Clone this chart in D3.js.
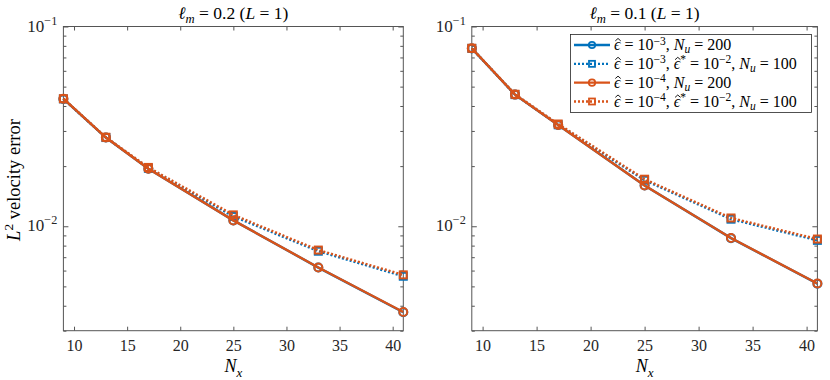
<!DOCTYPE html>
<html><head><meta charset="utf-8">
<script src="https://cdn.jsdelivr.net/npm/d3@7"></script>
<style>
body{margin:0;background:#fff}
svg{display:block}
svg text{font-family:"Liberation Serif","Times New Roman","DejaVu Serif",serif}
</style>
</head><body>
<svg id="c" width="830" height="380"></svg>
<script>
// ---- data ----
const Nx = [9, 13, 17, 25, 33, 41];
const xTicks = [10, 15, 20, 25, 30, 35, 40];
const yMajor = [0.01, 0.1];
const yMajorLabels = ["\u22122", "\u22121"];
// left panel (ell_m = 0.2)
const L_e3_200 = [0.0434, 0.0278, 0.0194, 0.0107, 0.00621, 0.00371];
const L_e3_100 = [0.0434, 0.0278, 0.0195, 0.0112, 0.00750, 0.00562];
const L_e4_200 = [0.0435, 0.0278, 0.0194, 0.0107, 0.00622, 0.00372];
const L_e4_100 = [0.0435, 0.0279, 0.0197, 0.0114, 0.00760, 0.00571];
// right panel (ell_m = 0.1)
const R_e3_200 = [0.0777, 0.0456, 0.0321, 0.0160, 0.00872, 0.00516];
const R_e3_100 = [0.0777, 0.0456, 0.0322, 0.0170, 0.01085, 0.00850];
const R_e4_200 = [0.0778, 0.0456, 0.0321, 0.0160, 0.00873, 0.00517];
const R_e4_100 = [0.0778, 0.0458, 0.0325, 0.0172, 0.0110, 0.00863];

const BLUE = "#0072BD", ORANGE = "#D95319";
const TXT = "#262626";

const svg = d3.select("#c");

const hats = [];
function rich(sel, segs, fs, supK = 0.4, subK = 0.25) {
  let shift = 0;
  segs.forEach(([t, k]) => {
    const ts = sel.append("tspan").text(t);
    let target = 0, size = fs;
    if (k.startsWith("sup")) { target = -fs * supK; size = fs * 0.72; }
    if (k.startsWith("sub")) { target = fs * subK; size = fs * 0.72; }
    ts.attr("dy", target - shift).attr("font-size", size);
    shift = target;
    if (k === "i" || k === "h" || k === "supi" || k === "subi") ts.attr("font-style", "italic");
    if (k === "h") hats.push({ node: ts.node(), fs: fs });
  });
}
// circumflex accents drawn as small strokes over the epsilon glyphs
function placeHats(layer) {
  hats.forEach(h => {
    const ext = h.node.getExtentOfChar(0);
    const sp = h.node.getStartPositionOfChar(0);
    const cx = ext.x + ext.width / 2 + 0.8, base = sp.y, fs = h.fs;
    const p = d3.path();
    p.moveTo(cx - 0.17 * fs, base - 0.57 * fs);
    p.lineTo(cx, base - 0.72 * fs);
    p.lineTo(cx + 0.17 * fs, base - 0.57 * fs);
    layer.append("path").attr("d", p.toString()).attr("fill", "none")
      .attr("stroke", "#000").attr("stroke-width", 0.9);
  });
}

const EPS = "\u03F5";

function panel(x0, x1, title, series) {
  const top = 26.5, bottom = 330.7;
  const x = d3.scaleLinear().domain([9, 41]).range([x0, x1]);
  const y = d3.scaleLog().domain([0.003, 0.1]).range([bottom, top]);
  const g = svg.append("g");

  g.append("rect").attr("x", x0).attr("y", top).attr("width", x1 - x0).attr("height", bottom - top)
    .attr("fill", "none").attr("stroke", "#555").attr("stroke-width", 1);

  const tickCol = "#555";
  const axB = d3.axisBottom(x).tickValues(xTicks).tickSize(-4).tickPadding(9);
  const gb = g.append("g").attr("transform", `translate(0,${bottom})`).call(axB);
  g.append("g").attr("transform", `translate(0,${top})`).call(d3.axisTop(x).tickValues(xTicks).tickSize(-4).tickFormat(""));
  const minor = [];
  [0.001, 0.01].forEach(d => { for (let k = 2; k <= 9; k++) { const v = d * k; if (v >= 0.003 && v < 0.1) minor.push(v); } });
  g.append("g").attr("transform", `translate(${x0},0)`).call(d3.axisLeft(y).tickValues(yMajor).tickSize(-5).tickFormat(""));
  g.append("g").attr("transform", `translate(${x0},0)`).call(d3.axisLeft(y).tickValues(minor).tickSize(-3).tickFormat(""));
  g.append("g").attr("transform", `translate(${x1},0)`).call(d3.axisRight(y).tickValues(yMajor).tickSize(-5).tickFormat(""));
  g.append("g").attr("transform", `translate(${x1},0)`).call(d3.axisRight(y).tickValues(minor).tickSize(-3).tickFormat(""));
  g.selectAll("g").attr("font-family", null);
  g.selectAll(".domain").remove();
  g.selectAll(".tick line").attr("stroke", tickCol).attr("stroke-width", 1);
  gb.selectAll(".tick text").attr("font-size", 16).attr("fill", TXT);

  yMajor.forEach((v, i) => {
    const t = g.append("text").attr("x", x0 - 6).attr("y", y(v) + 5).attr("text-anchor", "end").attr("fill", TXT);
    rich(t, [["10", "r"], [yMajorLabels[i], "sup"]], 17);
  });

  const tt = g.append("text").attr("x", (x0 + x1) / 2).attr("y", 19).attr("text-anchor", "middle").attr("fill", "#000");
  rich(tt, title, 17.5);
  const xl = g.append("text").attr("x", (x0 + x1) / 2).attr("y", 372).attr("text-anchor", "middle").attr("fill", "#000");
  rich(xl, [["N", "i"], ["x", "subi"]], 18);

  const line = d3.line().x((d, i) => x(Nx[i])).y(d => y(d));
  series.forEach(s => {
    g.append("path").datum(s.v).attr("d", line).attr("fill", "none").attr("stroke", s.c)
      .attr("stroke-width", 2.4).attr("stroke-dasharray", s.dot ? "2,2" : null);
    s.v.forEach((d, i) => {
      if (s.m === "o") {
        g.append("circle").attr("cx", x(Nx[i])).attr("cy", y(d)).attr("r", 4)
          .attr("fill", "none").attr("stroke", s.c).attr("stroke-width", 2);
      } else {
        g.append("rect").attr("x", x(Nx[i]) - 3.5).attr("y", y(d) - 3.5).attr("width", 7).attr("height", 7)
          .attr("fill", "none").attr("stroke", s.c).attr("stroke-width", 2);
      }
    });
  });
  return g;
}

panel(63.4, 403.3,
  [["\u2113", "i"], ["m", "subi"], [" = 0.2 (", "r"], ["L", "i"], [" = 1)", "r"]],
  [
    { v: L_e3_200, c: BLUE, m: "o", dot: false },
    { v: L_e3_100, c: BLUE, m: "s", dot: true },
    { v: L_e4_200, c: ORANGE, m: "o", dot: false },
    { v: L_e4_100, c: ORANGE, m: "s", dot: true },
  ]);
panel(471.8, 817.4,
  [["\u2113", "i"], ["m", "subi"], [" = 0.1 (", "r"], ["L", "i"], [" = 1)", "r"]],
  [
    { v: R_e3_200, c: BLUE, m: "o", dot: false },
    { v: R_e3_100, c: BLUE, m: "s", dot: true },
    { v: R_e4_200, c: ORANGE, m: "o", dot: false },
    { v: R_e4_100, c: ORANGE, m: "s", dot: true },
  ]);

const yl = svg.append("text").attr("transform", "translate(20,180) rotate(-90)").attr("text-anchor", "middle").attr("fill", "#000");
rich(yl, [["L", "i"], ["2", "sup"], [" velocity error", "r"]], 18.5);

const legItems = [
  { c: BLUE, m: "o", dot: false, segs: [[EPS, "h"], [" = 10", "r"], ["\u22123", "sup"], [", ", "r"], ["N", "i"], ["u", "subi"], [" = 200", "r"]] },
  { c: BLUE, m: "s", dot: true, segs: [[EPS, "h"], [" = 10", "r"], ["\u22123", "sup"], [", ", "r"], [EPS, "h"], ["*", "sup"], [" = 10", "r"], ["\u22122", "sup"], [", ", "r"], ["N", "i"], ["u", "subi"], [" = 100", "r"]] },
  { c: ORANGE, m: "o", dot: false, segs: [[EPS, "h"], [" = 10", "r"], ["\u22124", "sup"], [", ", "r"], ["N", "i"], ["u", "subi"], [" = 200", "r"]] },
  { c: ORANGE, m: "s", dot: true, segs: [[EPS, "h"], [" = 10", "r"], ["\u22124", "sup"], [", ", "r"], [EPS, "h"], ["*", "sup"], [" = 10", "r"], ["\u22122", "sup"], [", ", "r"], ["N", "i"], ["u", "subi"], [" = 100", "r"]] },
];
const lg = svg.append("g");
lg.append("rect").attr("x", 570.5).attr("y", 34.5).attr("width", 241).attr("height", 78)
  .attr("fill", "#fff").attr("stroke", "#262626").attr("stroke-width", 0.8);
const rowY = d3.scalePoint().domain(d3.range(legItems.length)).range([45, 101.5]);
legItems.forEach((it, i) => {
  const yy = rowY(i);
  lg.append("line").attr("x1", 574).attr("x2", 610).attr("y1", yy).attr("y2", yy)
    .attr("stroke", it.c).attr("stroke-width", 2.4).attr("stroke-dasharray", it.dot ? "2,2" : null);
  if (it.m === "o") lg.append("circle").attr("cx", 592).attr("cy", yy).attr("r", 3.2)
    .attr("fill", "none").attr("stroke", it.c).attr("stroke-width", 1.8);
  else lg.append("rect").attr("x", 589).attr("y", yy - 3).attr("width", 6).attr("height", 6)
    .attr("fill", "none").attr("stroke", it.c).attr("stroke-width", 1.8);
  const t = lg.append("text").attr("x", 614).attr("y", yy + 5).attr("fill", "#000");
  rich(t, it.segs, 16, 0.34, 0.2);
});
placeHats(lg);
</script>
</body></html>
